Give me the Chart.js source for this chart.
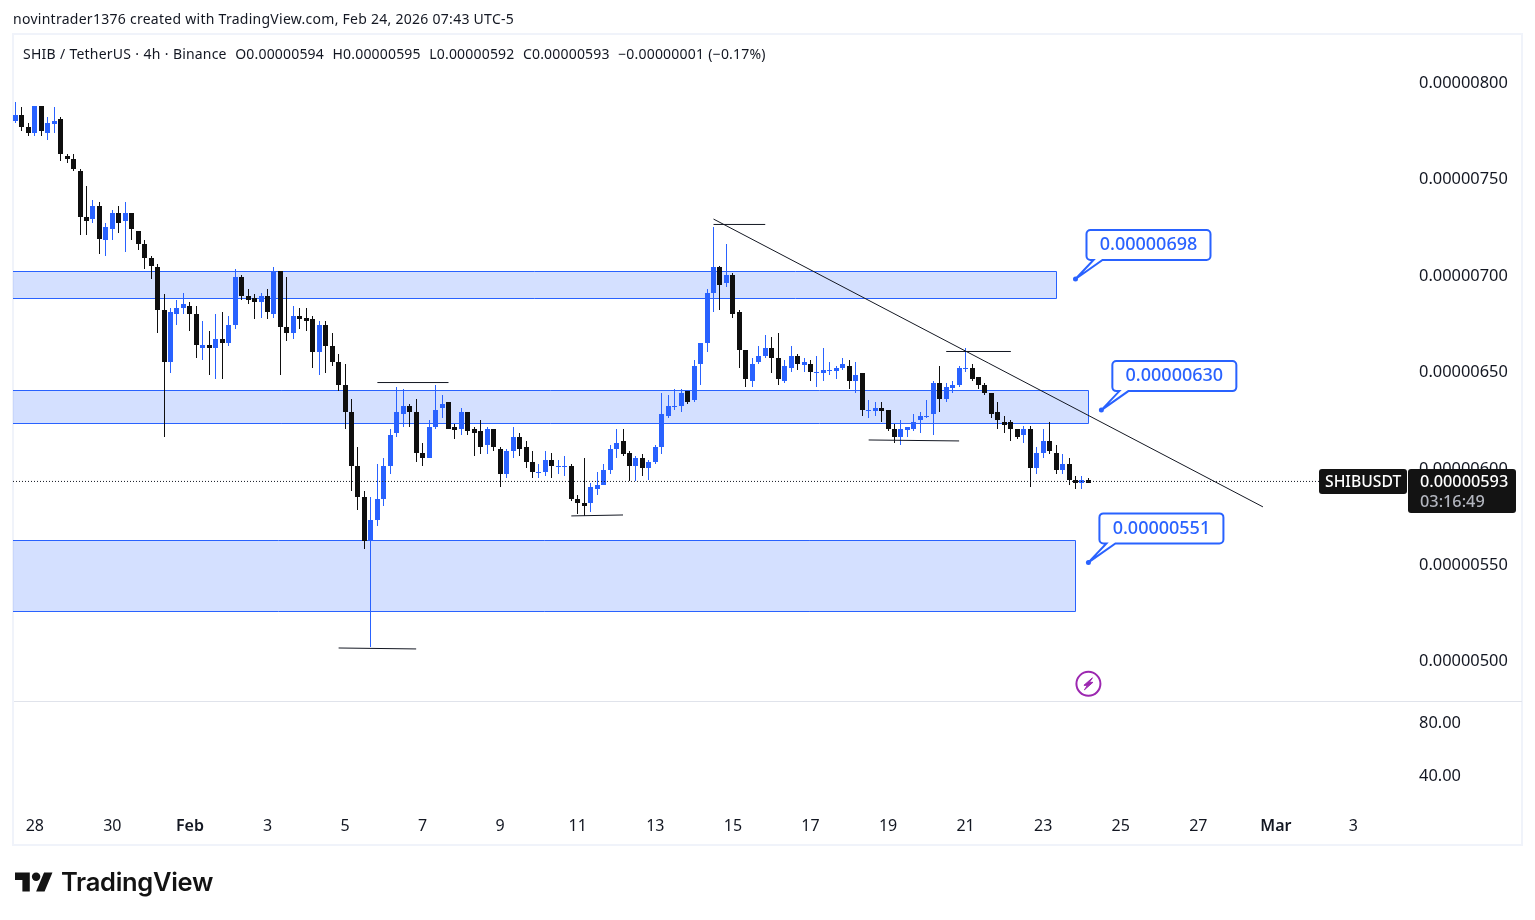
<!DOCTYPE html>
<html>
<head>
<meta charset="utf-8">
<title>SHIBUSDT 4h</title>
<script src="https://cdn.jsdelivr.net/npm/chart.js@4/dist/chart.umd.js"></script>
<style>
    body { margin: 0; background: #fff; font-family: "Noto Sans", sans-serif; color: #131722; }
    #frame { position: absolute; left: 12px; top: 33px; width: 1511px; height: 813px; box-sizing: border-box; border: 2px solid #f0f3fa; }
    #divider { position: absolute; left: 14px; top: 701px; width: 1508px; height: 1px; background: #e0e3eb; }
    #chart { position: absolute; left: 0; top: 0; }
    .caption { position: absolute; white-space: pre; font-size: 14px; line-height: 20px; }
    #credit { left: 13px; top: 9px; letter-spacing: 0.27px; }
    #legend { left: 23px; top: 44px; letter-spacing: 0.19px; word-spacing: 0.4px; }
    #logo { position: absolute; left: 15px; top: 868px; }
    #logoText { position: absolute; left: 61px; top: 864px; font-family: Inter, sans-serif; font-weight: 600; font-size: 25.5px; line-height: 36px; color: #131313; letter-spacing: -0.3px; }
</style>
</head>
<body>
<div id="frame"></div>
<div id="divider"></div>
<canvas id="chart" width="1535" height="920"></canvas>
<div class="caption" id="credit">novintrader1376 created with TradingView.com, Feb 24, 2026 07:43 UTC-5</div>
<div class="caption" id="legend">SHIB / TetherUS · 4h · Binance  O0.00000594  H0.00000595  L0.00000592  C0.00000593  −0.00000001 (−0.17%)</div>
<svg id="logo" width="38" height="28" viewBox="0 0 36 26"><path fill="#131313" d="M14 22H7V11H0V4h14v18zM28 22h-8l7.5-18h8L28 22z"/><circle fill="#131313" cx="20" cy="8" r="4"/></svg>
<div id="logoText">TradingView</div>

<script>
// prices below are in units of 0.00000001
const opens = [780,783,777,774,788,774,779,781,762,760,754,730,729,736,718,724,732,728,732,723,716,709,704,682,655,680,683,684,680,663,
    664,662,667,665,674,699,689,688,686,689,680,702,673,670,679,678,677,660,674,663,655,643,629,601,585,562,573,584,601,618,
    628,632,629,608,605,621,631,634,621,620,629,620,619,612,620,610,597,609,616,611,603,598,598,604,601,601,601,584,582,582,
    589,591,599,610,614,608,601,605,600,603,611,627,632,632,640,635,654,665,691,704,696,700,681,661,645,655,658,662,657,645,
    652,658,654,654,650,650,651,651,652,653,645,649,630,630,631,630,620,616,620,620,625,627,628,644,636,642,643,652,652,647,
    643,639,629,624,624,620,617,620,600,608,614,608,599,602,594,593,594];
const highs = [790,787,779,788,788,782,787,782,763,763,755,746,739,738,727,734,736,738,732,723,718,710,706,690,683,687,691,686,684,676,
    671,680,681,679,703,700,693,690,691,693,704,702,699,684,683,683,679,676,676,670,659,654,636,611,588,585,602,605,620,642,
    641,633,636,613,625,643,638,634,623,631,629,621,625,621,620,611,610,621,618,614,609,602,609,608,604,606,602,586,605,592,
    598,602,612,620,620,609,606,607,604,612,639,638,641,641,640,656,665,693,725,705,716,701,682,661,657,663,669,668,670,656,
    663,659,657,656,658,662,655,653,657,656,655,649,635,634,634,630,623,625,621,628,629,635,645,653,644,645,653,662,654,647,
    644,639,634,627,625,620,622,622,611,620,624,612,607,605,596,596,595];
const lows = [779,775,772,772,772,770,774,759,758,754,721,721,727,711,710,718,722,712,718,713,703,698,670,616,649,674,680,671,657,656,
    648,646,646,663,672,687,685,677,678,677,678,648,666,667,672,671,652,648,649,653,640,620,588,578,558,507,570,580,597,616,
    621,621,603,601,605,620,626,620,615,617,617,606,607,607,609,590,595,605,606,600,595,595,596,595,597,596,583,576,575,577,
    586,591,597,605,606,593,593,596,594,602,607,626,630,629,633,634,643,660,681,682,694,678,652,642,642,654,657,649,643,644,
    650,651,650,645,642,645,648,646,651,641,639,627,626,627,624,619,613,612,616,619,618,626,617,629,634,639,642,650,645,641,
    638,626,620,618,614,615,613,590,597,605,607,597,597,591,589,589,592];
const closes = [783,777,774,788,775,779,780,763,760,755,730,728,736,719,725,732,727,732,724,716,709,705,682,655,681,683,685,680,664,664,
    663,667,665,674,699,689,687,686,689,681,702,673,670,679,678,677,660,674,663,655,643,629,601,585,562,573,584,601,617,629,
    632,629,608,605,621,630,633,620,620,629,619,618,611,620,611,597,609,616,610,603,598,598,604,601,601,601,584,582,581,590,
    591,599,610,613,607,601,605,600,603,611,628,632,632,639,634,653,665,691,704,695,700,680,661,646,654,658,662,657,646,653,
    658,654,655,650,650,651,651,652,654,645,648,630,630,631,630,620,616,620,621,624,627,627,644,636,642,643,652,652,646,643,
    639,628,625,623,620,616,620,600,608,614,609,599,602,594,593,594,593];

const dateTickIndex = [3,15,27,39,51,63,75,87,99,111,123,135,147,159,171,183,195,207];
const dateTickLabels = ['28','30','Feb','3','5','7','9','11','13','15','17','19','21','23','25','27','Mar','3'];
const monthLabels = ['Feb','Mar'];
const priceTicks = [500,550,600,650,700,750,800];
const lowerPaneTicks = [40,80];

// shaded zones: price top, price bottom, bar index where each one ends
const zoneTops = [701.9,640.2,562.4];
const zoneBottoms = [688.4,623.1,525.6];
const zoneEnds = [161,166,164];

// callouts: stated price and the bar index they point at
const calloutPrices = [698,630,551];
const calloutBars = [164,168,166];

// hand drawn lines as [bar, price, bar, price]
const drawnLines = [
    [108,729.1,193,579.8],
    [108,726.3,116,726.3],
    [144,660.4,154,660.4],
    [56,644.3,67,644.3],
    [50,506.6,62,506.1],
    [86,575.1,94,575.6],
    [132,614.5,146,614]
];

const lastPrice = 593;
const symbolTag = 'SHIBUSDT';
const countdown = '03:16:49';
const eventBar = 166;
const eventPrice = 488;

const BLUE = '#2962ff';
const BLACK = '#0f0f0f';
const FONT = '"Noto Sans", sans-serif';
const X_MIN = -0.371;
const X_MAX = 215.44;

const barIndex = opens.map((_, i) => i);
const candleColors = opens.map((o, i) => closes[i] < o ? BLACK : BLUE);
const priceText = v => (v / 1e8).toFixed(8);

// round bars to whole pixels so the candles stay crisp; flat bodies stay 1px, others at least 3px
const snapCandles = {
    id: 'snapCandles',
    beforeDatasetsDraw(chart) {
        chart.data.datasets.forEach((ds, d) => {
            if (ds.type === 'line') return;
            chart.getDatasetMeta(d).data.forEach(el => {
                if (el.snapped) return;
                const flat = Math.abs(el.y - el.base) < 1;
                const top = Math.round(Math.min(el.y, el.base));
                const bottom = Math.round(Math.max(el.y, el.base));
                el.x = Math.floor(el.x) + 0.5;
                el.y = top;
                el.base = Math.max(bottom, top + (flat ? 1 : 3));
                el.snapped = true;
            });
        });
    }
};

const zones = {
    id: 'zones',
    beforeDatasetsDraw(chart) {
        const { ctx, scales: { x, y } } = chart;
        ctx.save();
        zoneTops.forEach((top, i) => {
            const y0 = Math.round(y.getPixelForValue(top)) + 0.5;
            const y1 = Math.round(y.getPixelForValue(zoneBottoms[i])) + 0.5;
            const x0 = chart.chartArea.left;
            const x1 = Math.floor(x.getPixelForValue(zoneEnds[i])) + 0.5;
            ctx.fillStyle = 'rgba(41,98,255,0.2)';
            ctx.fillRect(x0, y0, x1 - x0, y1 - y0);
            // the box runs off the left edge, so no left side is stroked
            ctx.strokeStyle = BLUE;
            ctx.lineWidth = 1;
            ctx.beginPath();
            ctx.moveTo(x0, y0);
            ctx.lineTo(x1, y0);
            ctx.lineTo(x1, y1);
            ctx.lineTo(x0, y1);
            ctx.stroke();
        });
        ctx.restore();
    }
};

function drawCallout(ctx, ax, ay, text) {
    const left = ax + 11, top = ay - 49, w = 124, h = 30;
    ctx.beginPath();
    ctx.moveTo(left + 4, top);
    ctx.arcTo(left + w, top, left + w, top + h, 4);
    ctx.arcTo(left + w, top + h, left, top + h, 4);
    ctx.lineTo(ax + 27, top + h);
    ctx.lineTo(ax, ay);
    ctx.lineTo(ax + 18, top + h);
    ctx.arcTo(left, top + h, left, top, 4);
    ctx.arcTo(left, top, left + w, top, 4);
    ctx.closePath();
    ctx.fillStyle = '#fff';
    ctx.fill();
    ctx.strokeStyle = BLUE;
    ctx.lineWidth = 2;
    ctx.stroke();
    ctx.beginPath();
    ctx.arc(ax, ay, 2.5, 0, Math.PI * 2);
    ctx.fillStyle = BLUE;
    ctx.fill();
    ctx.font = '500 18px ' + FONT;
    ctx.textAlign = 'center';
    ctx.textBaseline = 'middle';
    ctx.fillText(text, left + w / 2, top + h / 2);
}

const overlays = {
    id: 'overlays',
    afterDatasetsDraw(chart) {
        const { ctx, chartArea, scales: { x, y } } = chart;
        ctx.save();
        calloutPrices.forEach((p, i) => {
            drawCallout(ctx, x.getPixelForValue(calloutBars[i]), y.getPixelForValue(p), priceText(p));
        });

        // purple event marker
        const ex = x.getPixelForValue(eventBar), ey = y.getPixelForValue(eventPrice);
        ctx.strokeStyle = '#9c27b0';
        ctx.lineWidth = 2;
        ctx.beginPath();
        ctx.arc(ex, ey, 12, 0, Math.PI * 2);
        ctx.stroke();
        ctx.fillStyle = '#9c27b0';
        ctx.lineWidth = 1;
        ctx.beginPath();
        ctx.moveTo(ex + 4, ey - 6);
        ctx.lineTo(ex - 4.5, ey + 1.5);
        ctx.lineTo(ex - 1, ey + 1.5);
        ctx.lineTo(ex - 4, ey + 6);
        ctx.lineTo(ex + 4.5, ey - 1.5);
        ctx.lineTo(ex + 1, ey - 1.5);
        ctx.closePath();
        ctx.fill();
        ctx.stroke();

        // last price tags on the axis
        const ly = y.getPixelForValue(lastPrice);
        const r = chartArea.right;
        ctx.fillStyle = '#131313';
        ctx.beginPath();
        ctx.roundRect(r - 89, ly - 12.5, 88, 25, 3);
        ctx.fill();
        ctx.beginPath();
        ctx.roundRect(r, ly - 12.5, 108, 44, 3);
        ctx.fill();
        ctx.textBaseline = 'middle';
        ctx.textAlign = 'left';
        ctx.font = '500 15.7px ' + FONT;
        ctx.fillStyle = '#fff';
        ctx.fillText(symbolTag, r - 83, ly + 1);
        ctx.font = '500 16.3px ' + FONT;
        ctx.fillText(priceText(lastPrice), r + 12, ly + 1);
        ctx.fillStyle = '#b2b5be';
        ctx.fillText(countdown, r + 12, ly + 21);
        ctx.restore();
    }
};

const lineDefaults = { type: 'line', borderColor: '#131722', borderWidth: 1, pointRadius: 0, order: 0, clip: false };

new Chart(document.getElementById('chart'), {
    type: 'bar',
    data: {
        datasets: [
            { label: 'wicks', data: barIndex.map(i => ({ x: i, y: [lows[i], highs[i]] })), backgroundColor: candleColors, barThickness: 1, grouped: false, order: 2, inflateAmount: 0 },
            { label: 'bodies', data: barIndex.map(i => ({ x: i, y: [opens[i], closes[i]] })), backgroundColor: candleColors, barThickness: 5, grouped: false, order: 1, inflateAmount: 0 },
            { ...lineDefaults, label: 'last', borderDash: [1, 2], data: [{ x: X_MIN, y: lastPrice }, { x: 201.7, y: lastPrice }] },
            ...drawnLines.map((l, i) => ({ ...lineDefaults, label: 'line' + i, data: [{ x: l[0], y: l[1] }, { x: l[2], y: l[3] }] }))
        ]
    },
    options: {
        responsive: false,
        animation: false,
        layout: { padding: { left: 13, right: 13, top: 35, bottom: 75 } },
        plugins: { legend: { display: false }, tooltip: { enabled: false } },
        scales: {
            x: {
                type: 'linear',
                offset: false,
                min: X_MIN,
                max: X_MAX,
                grid: { display: false },
                border: { display: false },
                afterFit(scale) { scale.height = 38; },
                afterBuildTicks(scale) { scale.ticks = dateTickIndex.map(v => ({ value: v })); },
                ticks: {
                    autoSkip: false,
                    maxRotation: 0,
                    padding: 2,
                    color: '#131722',
                    font(c) {
                        const label = dateTickLabels[dateTickIndex.indexOf(c.tick && c.tick.value)];
                        return { family: FONT, size: 16, weight: monthLabels.includes(label) ? '600' : '400' };
                    },
                    callback: v => dateTickLabels[dateTickIndex.indexOf(v)]
                }
            },
            y: {
                position: 'right',
                stack: 'panes',
                stackWeight: 666,
                min: 479.1,
                max: 824.58,
                grid: { display: false },
                border: { display: false },
                afterFit(scale) { scale.width = 114; },
                afterBuildTicks(scale) { scale.ticks = priceTicks.map(v => ({ value: v })); },
                ticks: { crossAlign: 'near', padding: 3, labelOffset: 1, color: '#131722', font: { family: FONT, size: 16.4 }, callback: v => priceText(v) }
            },
            y2: {
                position: 'right',
                stack: 'panes',
                stackWeight: 106,
                min: 15.85,
                max: 95.1,
                grid: { display: false },
                border: { display: false },
                afterFit(scale) { scale.width = 114; },
                afterBuildTicks(scale) { scale.ticks = lowerPaneTicks.map(v => ({ value: v })); },
                ticks: { crossAlign: 'near', padding: 3, labelOffset: 2, color: '#131722', font: { family: FONT, size: 16.4 }, callback: v => v.toFixed(2) }
            }
        }
    },
    plugins: [snapCandles, zones, overlays]
});
</script>
</body>
</html>
